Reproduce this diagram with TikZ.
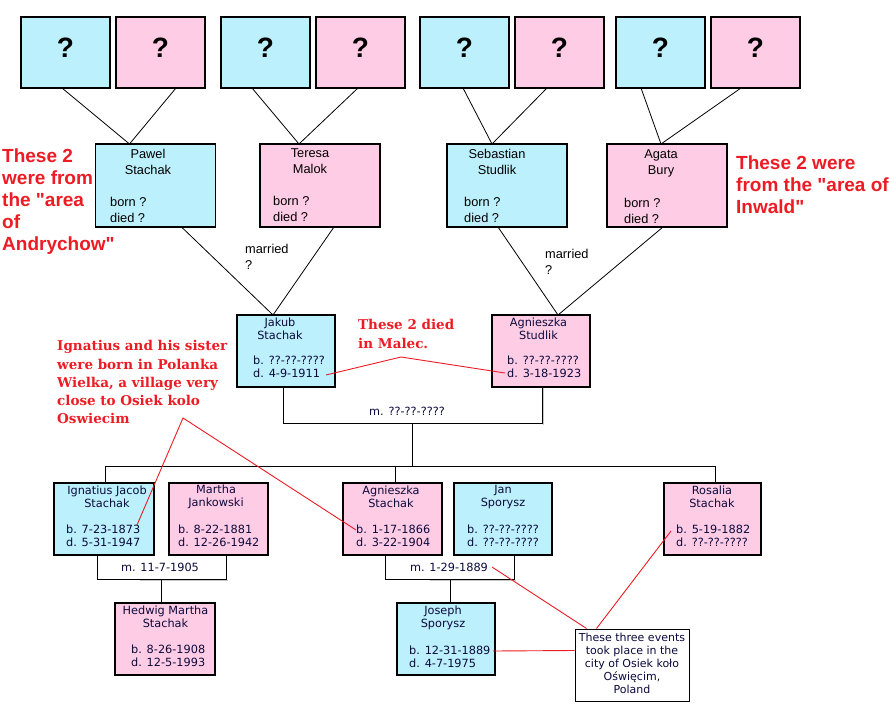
\documentclass[tikz,border=0pt]{standalone}
\usepackage{fontspec}
\setmainfont{Liberation Sans}
\newfontfamily\arialfont{Liberation Sans}
\newfontfamily\boxfont{DejaVu Sans}
\newfontfamily\slabfont{DejaVu Serif}
\usetikzlibrary{calc}
\definecolor{cblue}{RGB}{188,240,252}
\definecolor{cpink}{RGB}{255,204,229}
\definecolor{cred}{RGB}{237,28,36}
\definecolor{ctext}{RGB}{10,10,60}
\tikzset{
  bx/.style={draw=black,line width=1.1bp,inner sep=0pt,outer sep=0pt},
  bbox/.style={bx,fill=cblue},
  pbox/.style={bx,fill=cpink},
  topbox/.style={minimum width=89bp,minimum height=71bp},
  midbox/.style={minimum width=120bp,minimum height=83bp},
  smallbox/.style={minimum width=99bp,minimum height=72bp},
  qm/.style={inner sep=0pt,font=\fontsize{28bp}{30bp}\selectfont\bfseries},
  bigname/.style={inner sep=0pt,align=center,font=\fontsize{12.8bp}{16bp}\selectfont},
  bigdate/.style={inner sep=0pt,align=left,anchor=west,font=\fontsize{12.8bp}{16bp}\selectfont},
  sname/.style={inner sep=0pt,align=center,text=ctext,font=\boxfont\fontsize{11.3bp}{12.8bp}\selectfont},
  sdate/.style={sname,align=left,anchor=west},
  conn/.style={line width=0.8bp,black},
  shadowline/.style={line width=1bp,gray!45},
  redline/.style={cred,line width=0.9bp},
  redsans/.style={inner sep=0pt,anchor=north west,align=left,text=cred,font=\arialfont\fontsize{19bp}{21.8bp}\selectfont\bfseries},
  redslab/.style={inner sep=0pt,anchor=north west,align=left,text=cred,font=\slabfont\fontsize{13.5bp}{18.2bp}\selectfont\bfseries},
}
\begin{document}
\begin{tikzpicture}[x=1bp,y=-1bp]
\useasboundingbox[fill=white] (0,0) rectangle (894,720);

% ---------- top row ----------
\node[bbox,topbox] (q1) at (65.5,52.5) {};
\node[pbox,topbox] (q2) at (160.5,52.5) {};
\node[bbox,topbox] (q3) at (265.5,52.5) {};
\node[pbox,topbox] (q4) at (360.5,52.5) {};
\node[bbox,topbox] (q5) at (464.5,52.5) {};
\node[pbox,topbox] (q6) at (559.5,52.5) {};
\node[bbox,topbox] (q7) at (660.5,52.5) {};
\node[pbox,topbox] (q8) at (755.5,52.5) {};
\foreach \q in {q1,q2,q3,q4,q5,q6,q7,q8}
  \node[qm] at ([yshift=5bp]\q.center) {?};

% ---------- second row ----------
\node[bbox,midbox] (pawel) at (155.5,185.5) {};
\node[pbox,midbox] (teresa) at (320,185.5) {};
\node[bbox,midbox] (sebastian) at (507,185.5) {};
\node[pbox,midbox] (agata) at (667,185.5) {};

\node[bigname] (pawelN) at (148,162) {Pawel\\Stachak};
\node[bigdate] (pawelD) at (110,210) {born ?\\died ?};
\node[bigname] (teresaN) at (310,161) {Teresa\\Malok};
\node[bigdate] (teresaD) at (273,209) {born ?\\died ?};
\node[bigname] (sebN) at (497,162) {Sebastian\\Studlik};
\node[bigdate] (sebD) at (464,210) {born ?\\died ?};
\node[bigname] (agataN) at (661,163.5) {Agata\\Bury};
\node[bigdate] (agataD) at (624,211) {born ?\\died ?};

\draw[conn] ($(q1.south west)+(41,0)$) -- ($(pawel.north west)+(34,0)$);
\draw[conn] ($(q2.south west)+(60,0)$) -- ($(pawel.north west)+(34,0)$);
\draw[conn] ($(q3.south west)+(31,0)$) -- ($(teresa.north west)+(39,0)$);
\draw[conn] ($(q4.south west)+(42,0)$) -- ($(teresa.north west)+(39,0)$);
\draw[conn] ($(q5.south west)+(43,0)$) -- ($(sebastian.north west)+(45,0)$);
\draw[conn] ($(q6.south west)+(32,0)$) -- ($(sebastian.north west)+(45,0)$);
\draw[conn] ($(q7.south west)+(25,0)$) -- ($(agata.north west)+(54,0)$);
\draw[conn] ($(q8.south west)+(30,0)$) -- ($(agata.north west)+(54,0)$);

\node[bigdate] (mar1) at (245,257) {married\\?};
\node[bigdate] (mar2) at (545,262) {married\\?};

% ---------- third row (parents) ----------
\node[bbox,smallbox,minimum width=98bp] (jakub) at (286,351) {};
\node[pbox,smallbox,minimum width=98bp] (agst) at (541,351) {};
\node[sname] at (280,328.5) {Jakub\\Stachak};
\node[sdate] at (253,367) {b. ??-??-????\\d. 4-9-1911};
\node[sname] at (538.5,328.5) {Agnieszka\\Studlik};
\node[sdate] at (507,367) {b. ??-??-????\\d. 3-18-1923};

\draw[conn] ($(pawel.south west)+(86,0)$) -- ($(jakub.north west)+(36,0)$);
\draw[conn] ($(teresa.south west)+(74,0)$) -- ($(jakub.north west)+(36,0)$);
\draw[conn] ($(sebastian.south west)+(51,0)$) -- ($(agst.north west)+(66,0)$);
\draw[conn] ($(agata.south west)+(56,0)$) -- ($(agst.north west)+(66,0)$);

\draw[shadowline] ($(agst.south west)+(51.5,1)$) -- ++(0,36.5);
\draw[conn] ($(jakub.south west)+(46,0)$) -- ++(0,36) -| ($(agst.south west)+(50,0)$);
\node[sname] (m0label) at (407,411) {m. ??-??-????};

% ---------- children ----------
\node[bbox,smallbox,minimum width=100bp] (ign) at (104,519) {};
\node[pbox,smallbox] (martha) at (218.5,519) {};
\node[pbox,smallbox] (agS) at (392.5,519) {};
\node[bbox,smallbox,minimum width=98bp] (jan) at (503,519) {};
\node[pbox,smallbox,minimum width=97bp] (ros) at (712.5,519) {};

\node[sname] at (107,497) {Ignatius Jacob\\Stachak};
\node[sdate] at (66,535.5) {b. 7-23-1873\\d. 5-31-1947};
\node[sname] at (216,497) {Martha\\Jankowski};
\node[sdate] at (178,535.5) {b. 8-22-1881\\d. 12-26-1942};
\node[sname] at (391,497) {Agnieszka\\Stachak};
\node[sdate] at (356,535.5) {b. 1-17-1866\\d. 3-22-1904};
\node[sname] at (503,497) {Jan\\Sporysz};
\node[sdate] at (467,535.5) {b. ??-??-????\\d. ??-??-????};
\node[sname] at (712,497) {Rosalia\\Stachak};
\node[sdate] at (676,535.5) {b. 5-19-1882\\d. ??-??-????};

\coordinate (m0) at (412,423);
\draw[conn] (m0) -- ++(0,43);
\draw[conn] ($(ign.north)+(1,0)$) -- ++(0,-17) -| ($(ros.north)+(2.5,0)$);
\draw[conn] ($(agS.north)+(2.5,0)$) -- ++(0,-17);

% marriages of children
\draw[shadowline] (140,580.5) -- (227.5,580.5);
\draw[shadowline] (430,580.5) -- (515.5,580.5);
\draw[conn] ($(ign.south west)+(43,0)$) -- ++(0,24) -| ($(martha.south west)+(57.5,0)$);
\node[sname] (m1label) at (160,567) {m. 11-7-1905};
\draw[conn] ($(agS.south west)+(42,0)$) -- ++(0,24) -| ($(jan.south west)+(60.5,0)$);
\node[sname] (m2label) at (449,567) {m. 1-29-1889};

% ---------- grandchildren ----------
\node[pbox,smallbox,minimum width=100bp] (hedwig) at (165,639) {};
\node[bbox,smallbox,minimum width=98bp] (joseph) at (446,639) {};
\node[sname] at (165.5,617) {Hedwig Martha\\Stachak};
\node[sdate] at (131,655.5) {b. 8-26-1908\\d. 12-5-1993};
\node[sname] at (443,617.5) {Joseph\\Sporysz};
\node[sdate] at (409,657) {b. 12-31-1889\\d. 4-7-1975};

\coordinate (m1) at (161,579);
\coordinate (m2) at (450,579);
\draw[conn] (m1) -- ($(hedwig.north)+(-4,0)$);
\draw[conn] (m2) -- ($(joseph.north)+(4,0)$);

% ---------- note box ----------
\node[draw=black,line width=1bp,fill=white,minimum width=114bp,minimum height=72bp,inner sep=0pt] (note) at (632,665) {};
\node[sname,font=\boxfont\fontsize{11bp}{13bp}\selectfont] at (632,663) {These three events\\took place in the\\city of Osiek koło\\Oświęcim,\\Poland};

% ---------- red annotations ----------
\node[redsans] (noteL) at (2,149) {These 2\\were from\\the "area\\of\\Andrychow"};
\node[redsans] (noteR) at (736,156) {These 2 were\\from the "area of\\Inwald"};
\node[redslab] (noteM) at (358,319.5) {These 2 died\\in Malec.};
\node[redslab] (noteI) at (57,340.5) {Ignatius and his sister\\were born in Polanka\\Wielka, a village very\\close to Osiek kolo\\Oswiecim};

\coordinate (r1a) at (326,375);
\coordinate (r1b) at (401,357);
\coordinate (r1c) at (505,373);
\draw[redline] (r1a) -- (r1b) -- (r1c);
\coordinate (r2a) at (137,525);
\coordinate (r2b) at (183,418);
\coordinate (r2c) at (356,530);
\draw[redline] (r2a) -- (r2b) -- (r2c);
\coordinate (r3a) at (493,651);
\draw[redline] (r3a) -- ($(note.north west)+(0,22)$);
\coordinate (r4a) at (492,567);
\draw[redline] (r4a) -- ($(note.north west)+(12,0)$);
\coordinate (r5a) at (671,531);
\draw[redline] (r5a) -- ($(note.north west)+(22,0)$);
\end{tikzpicture}
\end{document}
